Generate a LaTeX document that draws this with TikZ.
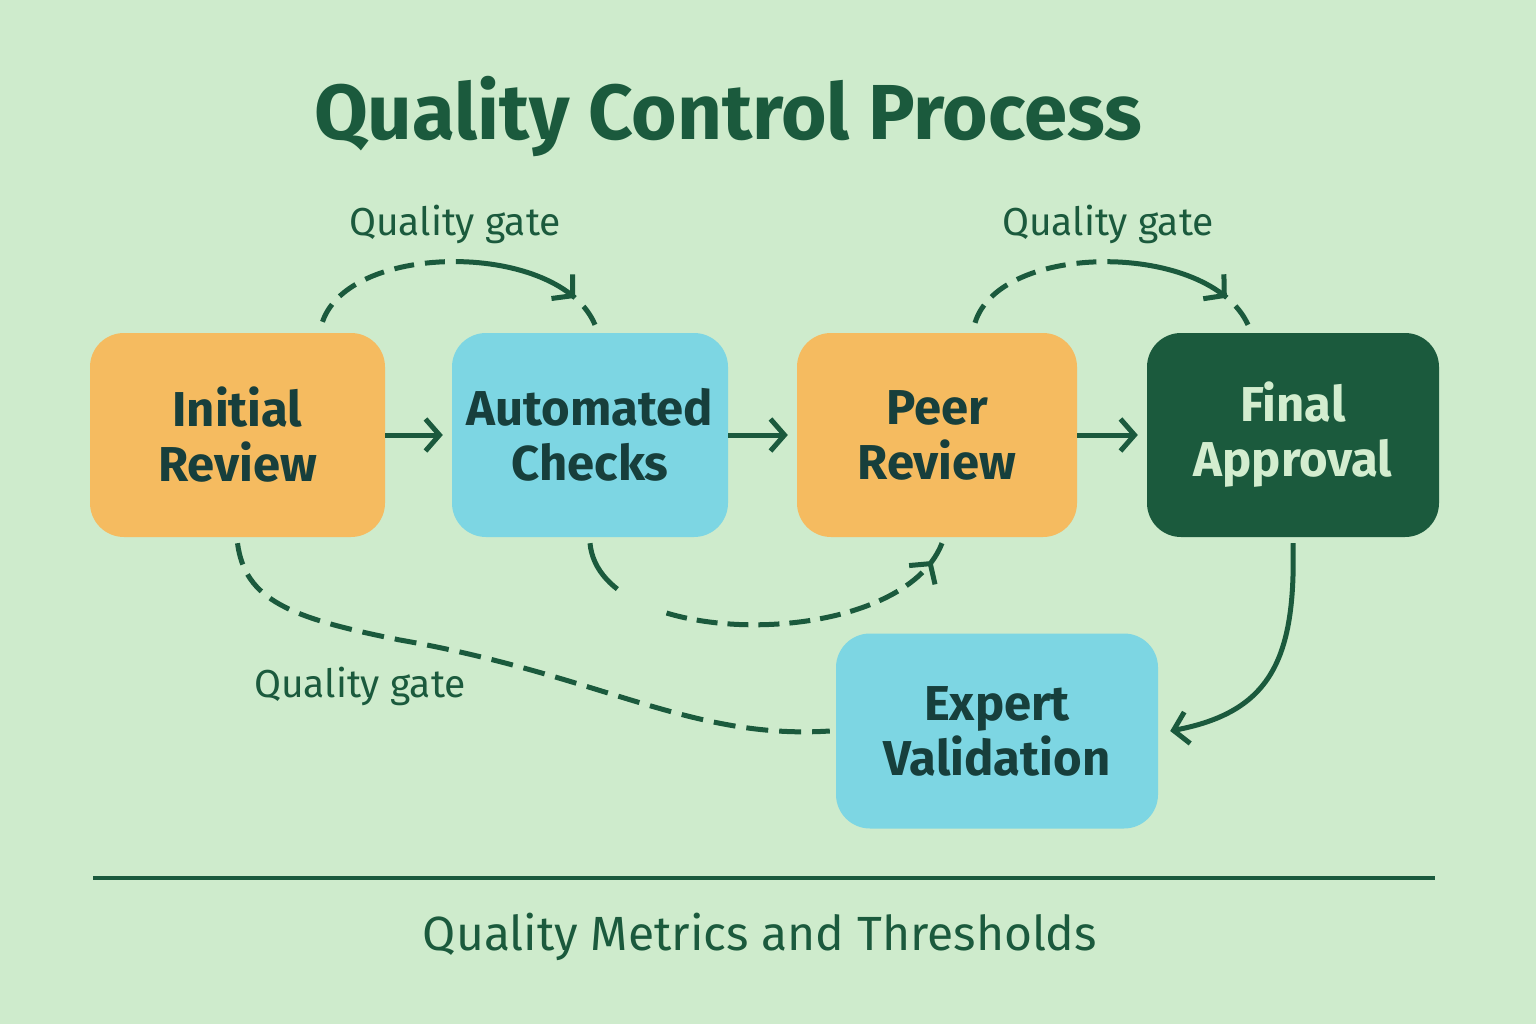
\documentclass[tikz,border=0pt]{standalone}
\usepackage{fontspec}
\setmainfont{Fira Sans}
\usetikzlibrary{arrows.meta,decorations.markings}

\definecolor{bgmint}{HTML}{CEEBCC}
\definecolor{deepgreen}{HTML}{1B5A3D}
\definecolor{boxorange}{HTML}{F5BB60}
\definecolor{boxcyan}{HTML}{7DD6E3}
\definecolor{inkteal}{HTML}{173F3C}
\definecolor{paletext}{HTML}{D3EDCF}

\tikzset{
  procbox/.style={rounded corners=34pt, align=center, inner sep=0pt,
    minimum height=204pt, font=\fontsize{49}{55}\selectfont\bfseries, text=inkteal},
  gatelabel/.style={anchor=base, font=\fontsize{39}{42}\selectfont, text=deepgreen},
  flowarrow/.style={line width=5pt, deepgreen, -{Straight Barb[length=14pt,width=32pt]}},
  gatepath/.style={line width=5pt, deepgreen},
  tipat/.style={postaction={decorate}, decoration={markings,
    mark=at position #1 with {\arrow{Straight Barb[length=14pt,width=32pt]}}}}
}

\begin{document}
\begin{tikzpicture}[x=1pt,y=-1pt]
  \fill[bgmint] (0,0) rectangle (1536,1024);
  \useasboundingbox (0,0) rectangle (1536,1024);

  \node[anchor=base, font=\fontsize{78}{88}\selectfont\bfseries, text=deepgreen]
    (title) at (728,140) {Quality Control Process};

  % process steps
  \node[procbox, fill=boxorange, minimum width=295pt] (initial) at (237.5,435) {Initial\\Review};
  \node[procbox, fill=boxcyan, minimum width=276pt] (auto) at (590,435) {Automated\\Checks};
  \node[procbox, fill=boxorange, minimum width=280pt] (peer) at (937,435) {Peer\\Review};
  \node[procbox, fill=deepgreen, text=paletext, minimum width=292pt] (final) at (1293,435) {Final\\Approval};
  \node[procbox, fill=boxcyan, minimum width=322pt, minimum height=195pt] (expert) at (997,731) {Expert\\Validation};

  \draw[flowarrow, shorten >=9pt] (initial) -- (auto);
  \draw[flowarrow, shorten >=9pt] (auto) -- (peer);
  \draw[flowarrow, shorten >=9pt] (peer) -- (final);

  % quality gates
  \draw[gatepath, tipat=282pt, dash pattern=on 20pt off 11pt on 20pt off 11pt on 20pt off 11pt
      on 20pt off 11pt on 20pt off 11pt on 127pt off 12pt on 30pt]
    ([xshift=85pt,yshift=11pt]initial.north) .. controls (350,241) and (560,241)
    .. ([xshift=5pt,yshift=8pt]auto.north);
  \node[gatelabel] (gateA) at (455,236) {Quality gate};

  \draw[gatepath, tipat=282pt, dash pattern=on 20pt off 11pt on 20pt off 11pt on 20pt off 11pt
      on 20pt off 11pt on 20pt off 11pt on 127pt off 12pt on 30pt]
    ([xshift=38pt,yshift=10pt]peer.north) .. controls (1000,241) and (1210,241)
    .. ([xshift=-45pt,yshift=8pt]final.north);
  \node[gatelabel] (gateB) at (1108,236) {Quality gate};

  \draw[gatepath, tipat=394pt, dash pattern=on 55pt off 55pt on 21pt off 10pt on 21pt off 10pt
      on 21pt off 10pt on 21pt off 10pt on 21pt off 10pt on 21pt off 10pt on 21pt off 10pt
      on 21pt off 10pt on 21pt off 10pt on 30pt]
    ([yshift=-6pt]auto.south) .. controls (600,652) and (900,652)
    .. ([xshift=5pt,yshift=-6pt]peer.south);

  \draw[gatepath, dash pattern=on 22pt off 11pt]
    ([yshift=-6pt]initial.south) .. controls (245,600) and (290,618) .. (400,640)
    .. controls (600,675) and (690,740) .. ([xshift=-6pt]expert.west);
  \node[gatelabel] (gateC) at (360,697) {Quality gate};

  \draw[flowarrow] ([yshift=-6pt]final.south) .. controls (1296,660) and (1270,712)
    .. ([xshift=12pt]expert.east);

  % metrics footer
  \coordinate (ruleL) at (93,878);
  \coordinate (ruleR) at (1435,878);
  \draw[deepgreen, line width=4pt] (ruleL) -- (ruleR);
  \node[anchor=base, font=\fontsize{48}{52}\selectfont, text=deepgreen]
    (metrics) at (760,950) {Quality Metrics and Thresholds};
\end{tikzpicture}
\end{document}
